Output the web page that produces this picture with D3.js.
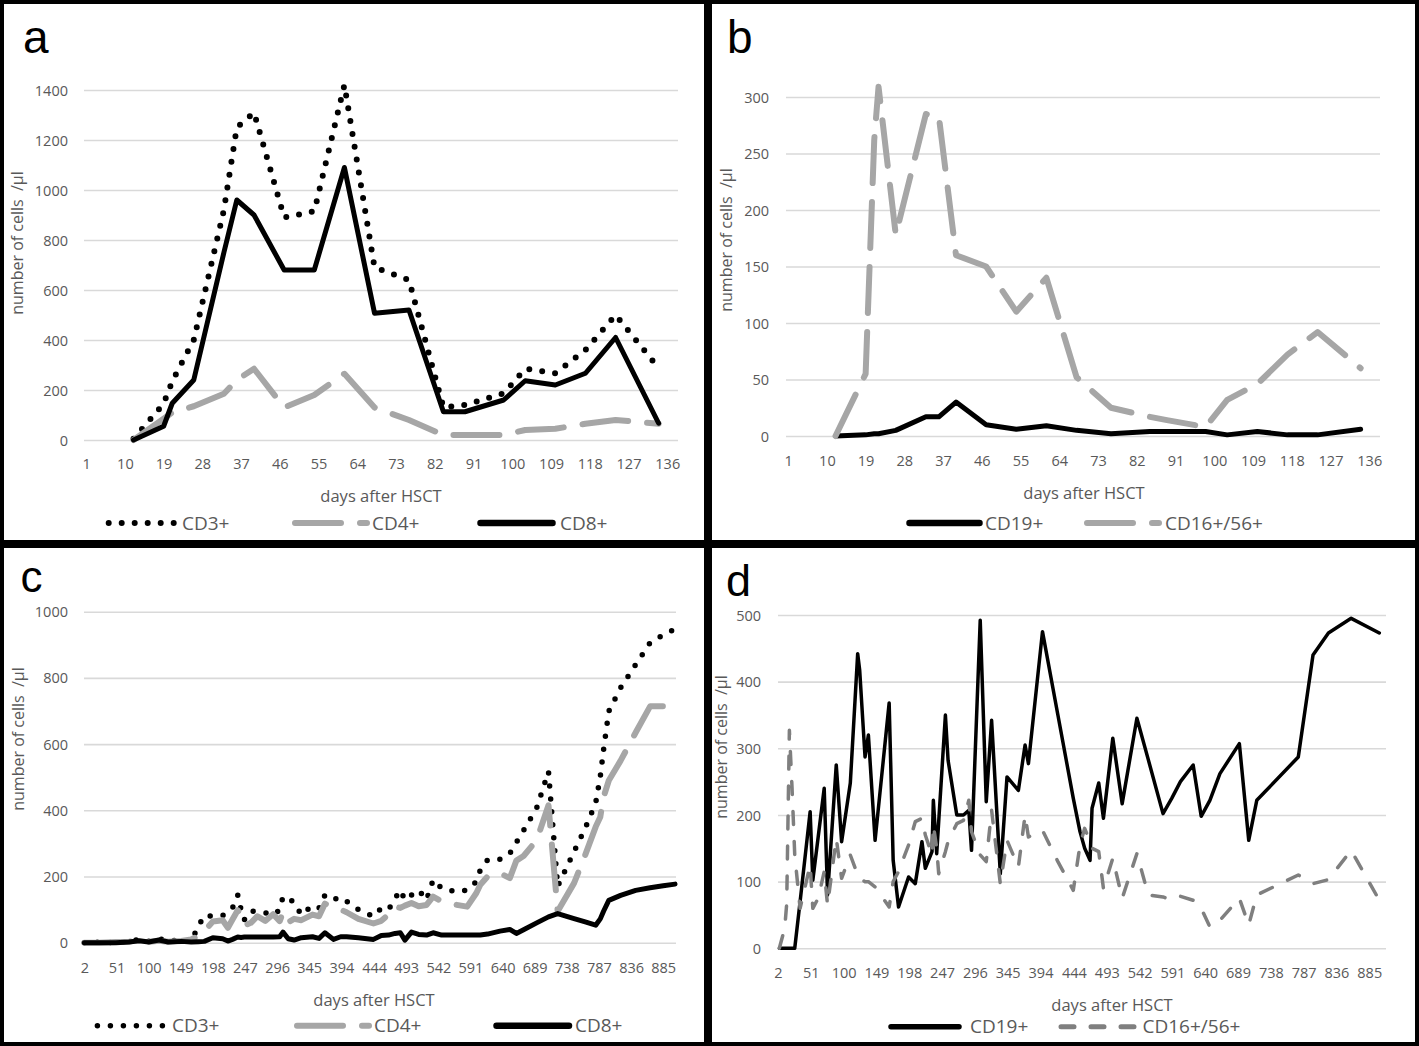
<!DOCTYPE html>
<html><head><meta charset="utf-8">
<script src="https://cdn.jsdelivr.net/npm/d3@7/dist/d3.min.js"></script>
<style>
html,body{margin:0;padding:0;background:#fff;}
svg{display:block;}
</style></head>
<body>
<svg id="chart" width="1419" height="1046"></svg>
<script>
// ---------------- DATA ----------------
// Panel a (days after HSCT 1..138)
const aDays = [12, 19, 21, 26, 33, 36, 40, 47, 54, 61, 68, 76, 84, 89, 98, 103, 110, 117, 124, 134];
const aCD3  = [5, 145, 235, 400, 920, 1250, 1310, 890, 915, 1420, 690, 640, 130, 140, 187, 285, 267, 360, 500, 288];
const aCD4  = [0, 85, 110, 135, 185, 240, 285, 130, 180, 265, 130, 80, 20, 20, 20, 40, 45, 65, 80, 65];
const aCD8  = [0, 55, 147, 240, 750, 960, 900, 680, 680, 1090, 507, 520, 113, 113, 160, 237, 220, 267, 410, 67];

// Panel b
const bDays  = [12, 19, 21, 22, 26, 33, 36, 40, 47, 54, 61, 68, 76, 85, 89, 98, 103, 110, 117, 124, 134];
const bCD19  = [0, 1, 2, 2, 5, 17, 17, 30, 10, 6, 9, 5, 2, 4, 4, 4, 1, 4, 1, 1, 6];
const bCD16  = [0, 55, 262, 309, 178, 285, 283, 160, 150, 110, 140, 52, 25, 17, 14, 8, 32, 46, 72, 92, 60];

// Panel c (days after HSCT 2..~904)
const cDays = [2, 25, 50, 70, 86, 100, 116, 130, 150, 165, 176, 185, 198, 213, 221, 228, 236, 241, 246, 256,
  266, 278, 290, 300, 305, 313, 322, 333, 350, 360, 369, 382, 393, 402, 420, 443, 455, 466, 476, 484,
  491, 501, 512, 524, 534, 547, 568, 586, 600, 606, 617, 636, 651, 661, 672, 692, 710, 724, 749, 766,
  782, 789, 794, 802, 820, 843, 865, 885, 903];
const cCD3 = [0, 2, 0, 3, 10, 4, 12, 5, 8, 4, 50, 82, 80, 82, 94, 105, 144, 100, 69, 96,
  94, 90, 84, 99, 139, 134, 122, 84, 112, 105, 144, 131, 137, 125, 100, 79, 104, 100, 134, 159,
  129, 144, 159, 129, 190, 165, 154, 159, 185, 220, 250, 252, 270, 303, 339, 407, 517, 170, 275, 346,
  422, 502, 583, 699, 770, 840, 906, 930, 948];
const cCD4 = [0, 0, 2, 3, 5, 3, 6, 3, 5, 10, 20, 35, 64, 68, 45, 70, 98, 80, 52, 60,
  80, 66, 86, 65, 92, 62, 72, 68, 85, 80, 118, 105, 100, 92, 72, 58, 66, 85, 109, 105,
  112, 120, 110, 114, 139, 125, 115, 109, 150, 175, 200, 210, 195, 248, 262, 310, 415, 95, 180, 265,
  350, 380, 440, 490, 550, 635, 714, 714, 714];
const cCD8 = [0, 0, 0, 2, 6, 2, 8, 2, 4, 2, 3, 4, 15, 12, 5, 10, 17, 16, 17, 17,
  17, 17, 17, 18, 32, 12, 8, 15, 18, 13, 30, 10, 18, 18, 15, 10, 22, 23, 28, 30,
  8, 32, 25, 23, 30, 23, 23, 23, 23, 23, 26, 35, 40, 28, 39, 60, 78, 88, 73, 63,
  53, 72, 95, 128, 143, 158, 166, 172, 177];

// Panel d
const dDays = [4, 12, 15, 19, 23, 27, 35, 50, 54, 62, 71, 76, 89, 97, 110, 121, 124, 132, 137, 147,
  168, 174, 182, 197, 207, 217, 222, 232, 234, 239, 242, 252, 256, 269, 279, 287, 291, 304, 313, 321,
  334, 344, 361, 371, 376, 397, 420, 443, 453, 460, 468, 471, 481, 488, 502, 516, 538, 555, 577, 590,
  603, 622, 634, 647, 662, 691, 705, 717, 779, 801, 824, 858, 900];
const dCD19 = [0, 0, 0, 0, 0, 0, 70, 205, 102, 167, 240, 80, 275, 160, 248, 442, 417, 287, 320, 162,
  368, 132, 62, 107, 97, 160, 120, 145, 222, 142, 190, 350, 282, 200, 200, 207, 147, 492, 220, 342,
  112, 257, 237, 305, 277, 475, 350, 225, 175, 150, 132, 210, 248, 195, 315, 217, 345, 283, 202, 225,
  250, 275, 198, 222, 262, 307, 162, 222, 287, 440, 473, 495, 473];
const dCD16 = [0, 30, 67, 327, 240, 140, 60, 125, 60, 75, 115, 65, 165, 105, 140, 110, 105, 100, 100, 92,
  62, 100, 115, 155, 190, 195, 170, 140, 185, 150, 112, 145, 160, 187, 192, 222, 175, 140, 130, 207,
  97, 162, 122, 200, 167, 177, 130, 87, 155, 180, 160, 150, 145, 90, 135, 75, 142, 80, 77, 72,
  78, 72, 60, 32, 42, 75, 35, 80, 110, 97, 103, 147, 72];

// Tick labels
const abXTicks = [1, 10, 19, 28, 37, 46, 55, 64, 73, 82, 91, 100, 109, 118, 127, 136];
const cdXTicks = [2, 51, 100, 149, 198, 247, 296, 345, 394, 444, 493, 542, 591, 640, 689, 738, 787, 836, 885];
const aYTicks = [0, 200, 400, 600, 800, 1000, 1200, 1400];
const bYTicks = [0, 50, 100, 150, 200, 250, 300];
const cYTicks = [0, 200, 400, 600, 800, 1000];
const dYTicks = [0, 100, 200, 300, 400, 500];

// ---------------- STYLES ----------------
const FONT = "'Open Sans', 'DejaVu Sans', sans-serif";
const TXT = '#595959';
const DOT   = {stroke:'#000', width:6, dash:'0 13', cap:'round'};
const DOTc  = {stroke:'#000', width:5.5, dash:'0 13', cap:'round'};
const GREY  = {stroke:'#a6a6a6', width:6, dash:'46 19', cap:'round'};
const SOLID = {stroke:'#000', width:5, dash:null, cap:'round'};
const THIN  = {stroke:'#000', width:3.5, dash:null, cap:'round'};
const GREYS = {stroke:'#7f7f7f', width:3.5, dash:'13 17', cap:'round'};

const svg = d3.select('#chart');

// panel borders
const borders = [[2,2,704,540],[710,2,707,540],[2,546,704,498],[710,546,707,498]];
svg.selectAll('rect.border').data(borders).join('rect')
  .attr('class','border')
  .attr('x',d=>d[0]).attr('y',d=>d[1]).attr('width',d=>d[2]).attr('height',d=>d[3])
  .attr('fill','none').attr('stroke','#000').attr('stroke-width',4);

const panels = [
  {letter:'a', letterPos:[23,53], xDomain:[0.5,138.5], xRange:[84,678], yDomain:[0,1400], yRange:[440,90],
   xTicks:abXTicks, yTicks:aYTicks, yLabelX:68, xLabelY:464, xTitle:[381,496.5], yTitle:[17,243],
   days:aDays, series:[[aCD3,DOT],[aCD4,GREY],[aCD8,SOLID]], legendY:523,
   legend:[{name:'CD3+', st:DOT, x1:108.7, x2:177, tx:182},
           {name:'CD4+', st:GREY, x1:295, x2:367, tx:372},
           {name:'CD8+', st:SOLID, x1:480.5, x2:552.5, tx:560, lw:6.5}]},
  {letter:'b', letterPos:[727,53], xDomain:[0.5,138.5], xRange:[786,1380], yDomain:[0,300], yRange:[436,97],
   xTicks:abXTicks, yTicks:bYTicks, yLabelX:769, xLabelY:461, xTitle:[1084,493.5], yTitle:[726,240],
   days:bDays, series:[[bCD19,SOLID],[bCD16,GREY]], legendY:523,
   legend:[{name:'CD19+', st:SOLID, x1:909.5, x2:979.5, tx:985, lw:6.5},
           {name:'CD16+/56+', st:GREY, x1:1087, x2:1159, tx:1165}]},
  {letter:'c', letterPos:[20.5,592], letterSize:44, xDomain:[1.5,904.5], xRange:[84,676], yDomain:[0,1000], yRange:[942.7,611.7],
   xTicks:cdXTicks, yTicks:cYTicks, yLabelX:68, xLabelY:967.5, xTitle:[374,1000.5], yTitle:[18,739],
   days:cDays, series:[[cCD3,DOTc],[cCD4,GREY],[cCD8,SOLID]], legendY:1025.7,
   legend:[{name:'CD3+', st:DOTc, x1:97.4, x2:166, tx:172},
           {name:'CD4+', st:GREY, x1:297, x2:369, tx:374},
           {name:'CD8+', st:SOLID, x1:496.5, x2:569, tx:575, lw:6.5}]},
  {letter:'d', letterPos:[726,596], letterSize:45, xDomain:[2,910], xRange:[778,1386], yDomain:[0,500], yRange:[948.3,615],
   xTicks:cdXTicks, yTicks:dYTicks, yLabelX:761, xLabelY:972.5, xTitle:[1112,1005.5], yTitle:[721,747],
   days:dDays, series:[[dCD19,THIN],[dCD16,GREYS]], legendY:1026.7,
   legend:[{name:'CD19+', st:THIN, x1:891, x2:959, tx:970, lw:5.5},
           {name:'CD16+/56+', st:GREYS, x1:1061, x2:1138, tx:1142.5, lw:5}]}
];

panels.forEach(p => {
  const g = svg.append('g');
  const x = d3.scaleLinear().domain(p.xDomain).range(p.xRange);
  const y = d3.scaleLinear().domain(p.yDomain).range(p.yRange);

  // gridlines via axis
  const grid = g.append('g').attr('transform',`translate(${p.xRange[0]},0)`)
    .call(d3.axisLeft(y).tickValues(p.yTicks).tickSize(-(p.xRange[1]-p.xRange[0])).tickFormat(''));
  grid.select('.domain').remove();
  grid.selectAll('line').attr('stroke','#d9d9d9').attr('stroke-width',1.6);

  // y labels
  const ya = g.append('g').attr('transform',`translate(${p.yLabelX},0)`)
    .call(d3.axisLeft(y).tickValues(p.yTicks).tickSize(0).tickPadding(0).tickFormat(d3.format('d')));
  ya.select('.domain').remove();
  ya.selectAll('text').attr('font-family',FONT).attr('font-size',14.5).attr('fill',TXT).attr('dy','0.35em');

  // x labels
  const xa = g.append('g').attr('transform',`translate(0,${p.xLabelY})`)
    .call(d3.axisBottom(x).tickValues(p.xTicks).tickSize(0).tickPadding(0).tickFormat(d3.format('d')));
  xa.select('.domain').remove();
  xa.selectAll('text').attr('font-family',FONT).attr('font-size',14.5).attr('fill',TXT).attr('y',0).attr('dy','0.35em');

  // titles
  g.append('text').attr('x',p.xTitle[0]).attr('y',p.xTitle[1]).attr('dy','0.35em')
    .attr('text-anchor','middle').attr('font-family',FONT).attr('font-size',16.5).attr('fill',TXT)
    .text('days after HSCT');
  g.append('text').attr('transform',`translate(${p.yTitle[0]},${p.yTitle[1]}) rotate(-90)`)
    .attr('dy','0.35em').attr('text-anchor','middle').attr('font-family',FONT).attr('font-size',16)
    .attr('fill',TXT).style('white-space','pre').text('number of cells  /µl');

  // panel letter
  g.append('text').attr('x',p.letterPos[0]).attr('y',p.letterPos[1])
    .attr('font-family',"'Liberation Sans', Arial, sans-serif").attr('font-size',p.letterSize || 46).attr('fill','#000')
    .text(p.letter);

  // series
  const line = d3.line().x(d=>x(d[0])).y(d=>y(d[1]));
  p.series.forEach(([vals, st]) => {
    const pts = p.days.map((dd,i)=>[dd, vals[i]]);
    g.append('path').datum(pts).attr('d',line)
      .attr('fill','none').attr('stroke',st.stroke).attr('stroke-width',st.width)
      .attr('stroke-linecap',st.cap).attr('stroke-linejoin','round')
      .attr('stroke-dasharray',st.dash);
  });

  // legend
  p.legend.forEach(it => {
    g.append('line').attr('x1',it.x1).attr('x2',it.x2).attr('y1',p.legendY).attr('y2',p.legendY)
      .attr('stroke',it.st.stroke).attr('stroke-width',it.lw || it.st.width)
      .attr('stroke-linecap','round').attr('stroke-dasharray',it.st.dash);
    g.append('text').attr('x',it.tx).attr('y',p.legendY).attr('dy','0.35em')
      .attr('font-family',FONT).attr('font-size',19).attr('fill',TXT).text(it.name);
  });
});
</script>
</body></html>
